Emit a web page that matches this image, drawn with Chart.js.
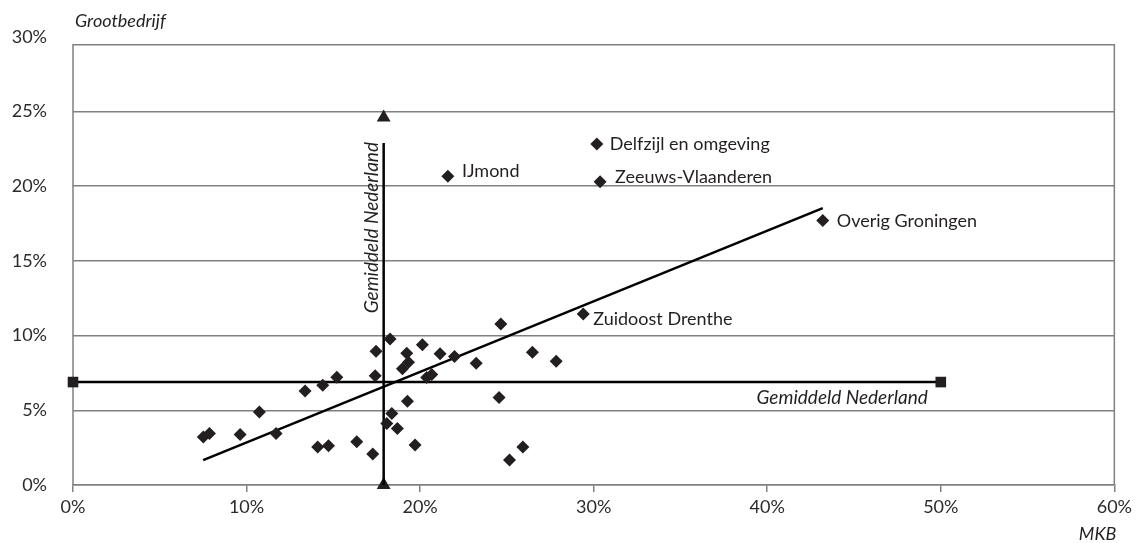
<!DOCTYPE html>
<html>
<head>
<meta charset="utf-8">
<script src="https://cdn.jsdelivr.net/npm/chart.js@4.4.1/dist/chart.umd.min.js"></script>
<style>
  html, body { margin: 0; padding: 0; background: #fff; }
  #wrap { width: 1136px; height: 543px; }
</style>
</head>
<body>
<div id="wrap"><canvas id="scatter"></canvas></div>
<script>
// MKB-aandeel (x) tegen aandeel grootbedrijf (y), in procenten
const regioX = [7.51, 7.86, 9.63, 10.74, 11.70, 13.37, 14.39, 15.20, 14.10, 14.72, 16.35, 17.27,
  17.46, 17.41, 18.27, 19.23, 19.33, 18.98, 20.13, 21.15, 20.38, 20.67, 19.27, 18.37, 18.08,
  18.69, 19.71, 21.98, 23.23, 24.65, 26.47, 27.84, 24.55, 25.15, 25.92];
const regioY = [3.22, 3.45, 3.38, 4.89, 3.45, 6.29, 6.67, 7.22, 2.55, 2.62, 2.89, 2.07,
  8.95, 7.31, 9.78, 8.82, 8.22, 7.78, 9.38, 8.78, 7.20, 7.40, 5.60, 4.78, 4.11,
  3.78, 2.67, 8.60, 8.15, 10.78, 8.89, 8.29, 5.85, 1.67, 2.55];

// regio's met naam
const labelNamen = ["IJmond", "Delfzijl en omgeving", "Zeeuws-Vlaanderen", "Overig Groningen", "Zuidoost Drenthe"];
const labelX = [21.6, 30.18, 30.37, 43.2, 29.4];
const labelY = [20.67, 22.82, 20.29, 17.71, 11.45];

// trendlijn
const trendX = [7.5, 43.2];
const trendY = [1.67, 18.53];

// gemiddeld Nederland
const gemMKB = 17.9;
const gemGroot = 6.89;
const gemLijnX = [0, 50];
const gemLijnY = [0, 22.89];
const gemPijlY = [0, 24.6];

const xTicks = [0, 10, 20, 30, 40, 50, 60];
const yTicks = [0, 5, 10, 15, 20, 25, 30];

const FONT = "Lato";
const INK = "#231f20";
const GRID = "#808080";

const pts = (xs, ys) => xs.map((x, i) => ({ x: x, y: ys[i] }));

// plaatsing van de namen naast de punten (px)
const labelOffsets = [[14, 1], [13, 6], [15, 1], [14, 7], [10, 11]];

const extras = {
  id: "extras",
  beforeDatasetsDraw(chart) {
    const { ctx, chartArea: a } = chart;
    // kader (bovenrand ligt iets onder de 30%-lijn)
    const top = a.top + 8;
    ctx.save();
    ctx.strokeStyle = GRID;
    ctx.lineWidth = 1.5;
    ctx.beginPath();
    ctx.moveTo(a.left, a.bottom);
    ctx.lineTo(a.left, top);
    ctx.lineTo(a.right, top);
    ctx.lineTo(a.right, a.bottom);
    ctx.stroke();
    ctx.restore();
  },
  afterDraw(chart) {
    const { ctx, chartArea: a, scales } = chart;
    const xs = scales.x, ys = scales.y;
    ctx.save();
    ctx.fillStyle = INK;
    ctx.textBaseline = "alphabetic";
    ctx.font = "18px " + FONT;
    ctx.textAlign = "left";
    labelNamen.forEach((naam, i) => {
      const px = xs.getPixelForValue(labelX[i]);
      const py = ys.getPixelForValue(labelY[i]);
      ctx.fillText(naam, px + labelOffsets[i][0], py + labelOffsets[i][1]);
    });

    // astitels
    ctx.font = "italic 18px " + FONT;
    ctx.fillText("Grootbedrijf", a.left + 2, 27);
    ctx.textAlign = "right";
    ctx.fillText("MKB", a.right + 2, 540);

    // gemiddeld Nederland
    ctx.font = "italic 19px " + FONT;
    ctx.fillText("Gemiddeld Nederland", xs.getPixelForValue(50) - 13, ys.getPixelForValue(gemGroot) + 22);
    ctx.save();
    ctx.translate(xs.getPixelForValue(gemMKB) - 6, ys.getPixelForValue(gemLijnY[1]) - 1);
    ctx.rotate(-Math.PI / 2);
    ctx.textAlign = "right";
    ctx.fillText("Gemiddeld Nederland", 0, 0);
    ctx.restore();
    ctx.restore();
  }
};

new Chart(document.getElementById("scatter"), {
  type: "scatter",
  data: {
    datasets: [
      {
        label: "Regio's",
        data: pts(regioX, regioY).concat(pts(labelX, labelY)),
        pointStyle: "rectRot",
        pointRadius: 6.5,
        backgroundColor: INK,
        borderColor: INK,
        borderWidth: 0
      },
      {
        label: "Trend",
        data: pts(trendX, trendY),
        showLine: true,
        pointRadius: 0,
        borderColor: "#000",
        borderWidth: 2.5
      },
      {
        label: "Gemiddeld MKB",
        data: pts([gemMKB, gemMKB], gemLijnY),
        showLine: true,
        pointRadius: 0,
        borderColor: "#000",
        borderWidth: 2.5,
        clip: false
      },
      {
        label: "Gemiddeld MKB pijl",
        data: pts([gemMKB, gemMKB], gemPijlY),
        pointStyle: "triangle",
        pointRadius: 8,
        backgroundColor: INK,
        borderWidth: 0,
        clip: false
      },
      {
        label: "Gemiddeld grootbedrijf",
        data: pts(gemLijnX, [gemGroot, gemGroot]),
        showLine: true,
        pointStyle: "rect",
        pointRadius: 7.5,
        backgroundColor: INK,
        borderColor: "#000",
        borderWidth: 2.5,
        pointBorderWidth: 0,
        clip: false
      }
    ]
  },
  options: {
    responsive: true,
    maintainAspectRatio: false,
    animation: false,
    layout: { padding: { top: 35, right: 21, left: 0, bottom: 0 } },
    plugins: {
      legend: { display: false },
      tooltip: { enabled: false }
    },
    scales: {
      x: {
        type: "linear",
        min: 0,
        max: 60,
        afterBuildTicks: (s) => { s.ticks = xTicks.map(v => ({ value: v })); },
        afterFit: (s) => { s.height = 58; },
        border: { color: GRID, width: 1.5 },
        grid: { drawOnChartArea: false, drawTicks: true, tickLength: 7, color: GRID, lineWidth: 1.5 },
        ticks: {
          padding: 4,
          color: "#2b2b2b",
          font: { family: FONT, size: 18 },
          callback: (v) => v + "%"
        }
      },
      y: {
        type: "linear",
        min: 0,
        max: 30,
        afterBuildTicks: (s) => { s.ticks = yTicks.map(v => ({ value: v })); },
        afterFit: (s) => { s.width = 73; },
        border: { display: false },
        grid: {
          color: (c) => (c.tick && c.tick.value === 30 ? "rgba(0,0,0,0)" : GRID),
          lineWidth: 1.5,
          drawTicks: false
        },
        ticks: {
          padding: 26,
          color: "#2b2b2b",
          font: { family: FONT, size: 18 },
          callback: (v) => v + "%"
        }
      }
    }
  },
  plugins: [extras]
});
</script>
</body>
</html>
